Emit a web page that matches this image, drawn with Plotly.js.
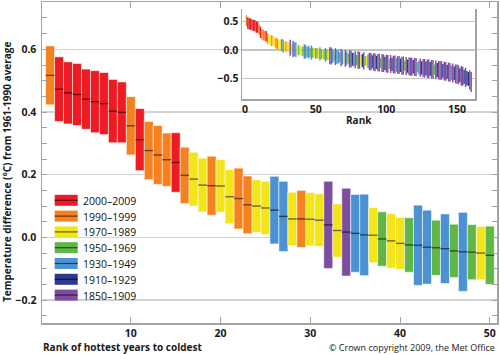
<!DOCTYPE html>
<html>
<head>
<meta charset="utf-8">
<script src="https://cdn.plot.ly/plotly-3.0.1.min.js"></script>
<style>
html,body{margin:0;padding:0;background:#fff;}
#chart{width:500px;height:354px;}
</style>
</head>
<body>
<div id="chart"></div>
<script>
// Period labels (legend) and colours
const periodLabels = ["2000–2009","1990–1999","1970–1989","1950–1969","1930–1949","1910–1929","1850–1909"];
const periodColors = ["#ed1c24","#f58220","#f3e519","#62b547","#4a92d3","#2b3990","#7d4e9f"];

// Period index of each ranked year (rank 1 = hottest), 160 years
const rankPeriod = [
  1,0,0,0,0,0,0,0,0,1, 0,1,1,1,0,1,2,2,1,2,
  2,1,1,2,2,4,4,2,1,2, 2,6,2,6,4,4,2,3,2,2,
  3,4,4,3,4,3,4,3,2,3,
  3,2,4,3,2,3,4,3,2,6, 6,4,3,6,4,4,3,6,4,2,
  6,4,3,6,6,5,4,6,3,6, 6,2,5,6,3,2,4,6,6,5,
  6,6,5,6,6,3,6,6,5,6, 6,3,6,5,6,6,4,6,6,5,
  6,6,3,6,5,6,6,6,5,6, 6,3,4,6,5,6,6,5,6,6,
  5,6,6,3,6,5,6,6,6,5, 6,6,5,6,6,4,6,5,6,6,
  6,5,6,6,5,6,5,5,6,6
];

// Best-estimate temperature anomaly (°C, vs 1961-1990) for each rank
const central = [
  0.517,0.473,0.461,0.456,0.441,0.433,0.427,0.403,0.399,0.356,
  0.312,0.277,0.263,0.248,0.239,0.198,0.186,0.167,0.165,0.164,
  0.130,0.124,0.104,0.100,0.094,0.087,0.067,0.059,0.059,0.058,
  0.055,0.040,0.022,0.017,0.013,0.008,0.007,-0.005,-0.011,-0.019,
  -0.024,-0.025,-0.031,-0.033,-0.036,-0.043,-0.046,-0.047,-0.050,-0.057,
  -0.059,-0.062,-0.068,-0.071,-0.073,-0.079,-0.084,-0.086,-0.092,-0.101,
  -0.104,-0.107,-0.109,-0.116,-0.119,-0.121,-0.127,-0.133,-0.135,-0.138,
  -0.146,-0.148,-0.150,-0.156,-0.160,-0.163,-0.165,-0.171,-0.174,-0.176,
  -0.180,-0.182,-0.186,-0.189,-0.191,-0.195,-0.197,-0.201,-0.206,-0.208,
  -0.210,-0.215,-0.217,-0.219,-0.224,-0.226,-0.229,-0.233,-0.235,-0.238,
  -0.242,-0.244,-0.246,-0.251,-0.254,-0.255,-0.259,-0.263,-0.265,-0.268,
  -0.272,-0.274,-0.276,-0.281,-0.283,-0.285,-0.290,-0.292,-0.294,-0.299,
  -0.301,-0.303,-0.307,-0.311,-0.313,-0.316,-0.320,-0.322,-0.326,-0.329,
  -0.332,-0.336,-0.339,-0.342,-0.347,-0.350,-0.354,-0.358,-0.361,-0.366,
  -0.371,-0.375,-0.380,-0.386,-0.391,-0.397,-0.404,-0.410,-0.418,-0.425,
  -0.433,-0.442,-0.451,-0.460,-0.471,-0.482,-0.494,-0.508,-0.525,-0.560
];

// Half-width of the uncertainty range for each rank (°C)
const halfRange = [
  0.094,0.103,0.099,0.099,0.096,0.099,0.099,0.101,0.097,0.093,
  0.099,0.093,0.094,0.085,0.095,0.090,0.086,0.086,0.094,0.084,
  0.086,0.097,0.092,0.084,0.085,0.108,0.112,0.085,0.091,0.085,
  0.084,0.139,0.085,0.140,0.124,0.130,0.088,0.087,0.087,0.083,
  0.087,0.128,0.118,0.088,0.111,0.085,0.126,0.088,0.085,0.093,
  0.088,0.084,0.118,0.086,0.083,0.089,0.121,0.087,0.085,0.148,
  0.150,0.119,0.088,0.147,0.122,0.117,0.086,0.152,0.120,0.084,
  0.149,0.121,0.087,0.151,0.148,0.113,0.118,0.150,0.088,0.153,
  0.149,0.086,0.116,0.152,0.087,0.085,0.120,0.151,0.154,0.114,
  0.153,0.156,0.115,0.152,0.155,0.088,0.157,0.154,0.117,0.156,
  0.155,0.089,0.158,0.116,0.154,0.157,0.121,0.155,0.158,0.118,
  0.156,0.159,0.088,0.157,0.117,0.155,0.160,0.158,0.119,0.157,
  0.159,0.089,0.122,0.160,0.118,0.158,0.161,0.120,0.159,0.162,
  0.121,0.163,0.160,0.090,0.164,0.122,0.162,0.165,0.163,0.121,
  0.166,0.164,0.123,0.167,0.165,0.124,0.168,0.122,0.166,0.169,
  0.167,0.124,0.170,0.168,0.125,0.171,0.126,0.123,0.172,0.175
];

const mainCount = 50;
const xTicksMain = [10,20,30,40,50];
const yTicksInset = [-0.5,0.0,0.5];
const xTicksInset = [0,50,100,150];

// ---- derived ----
const ranks = central.map((_, i) => i + 1);
const base = central.map((c, i) => c - halfRange[i]);
const span = halfRange.map(h => 2 * h);
const colors = rankPeriod.map(p => periodColors[p]);

const mRanks = ranks.slice(0, mainCount);

// central-value line segments for main chart
const segX = [], segY = [];
mRanks.forEach((r, i) => { segX.push(r - 0.49, r + 0.49, null); segY.push(central[i], central[i], null); });

const FONT = "'Open Sans', 'Noto Sans', sans-serif";
const GRID = "#d2d2d2";
const AX = "#a3a3a3";

const traces = [
  {
    type: "bar", x: mRanks, y: span.slice(0, mainCount), base: base.slice(0, mainCount),
    width: 1, marker: { color: colors.slice(0, mainCount), line: { color: "rgba(255,255,255,0.55)", width: 1 } },
    xaxis: "x", yaxis: "y", showlegend: false, hoverinfo: "skip"
  },
  {
    type: "scatter", mode: "lines", x: segX, y: segY,
    line: { color: "rgba(0,0,0,0.55)", width: 1.4 }, xaxis: "x", yaxis: "y",
    showlegend: false, hoverinfo: "skip", connectgaps: false
  },
  {
    type: "bar", x: ranks, y: span, base: base,
    width: 1, marker: { color: colors, line: { width: 0 } },
    xaxis: "x2", yaxis: "y2", showlegend: false, hoverinfo: "skip"
  }
];

// pixel helpers for paper coords (plot area: x 42..497, y 2..323)
const L = 42, R = 497, T = 2, B = 323;
const px = x => (x - L) / (R - L);
const py = y => (B - y) / (B - T);

const shapes = [];
const annotations = [];
periodLabels.forEach((lab, i) => {
  const cy = 200.3 + 15.8 * i;
  shapes.push({ type: "rect", xref: "paper", yref: "paper", x0: px(54.7), x1: px(77.7), y0: py(cy + 5.5), y1: py(cy - 5.5),
    fillcolor: periodColors[i], line: { width: 0 }, layer: "above" });
  shapes.push({ type: "line", xref: "paper", yref: "paper", x0: px(54.7), x1: px(77.7), y0: py(cy), y1: py(cy),
    line: { color: "rgba(0,0,0,0.6)", width: 1.2 }, layer: "above" });
  annotations.push({ xref: "paper", yref: "paper", x: px(81), y: py(cy + 0.5), xanchor: "left", yanchor: "middle",
    text: lab, showarrow: false, font: { family: FONT, size: 10.5, color: "#111" } });
});

annotations.push(
  { xref: "paper", yref: "paper", x: px(7), y: py(172), textangle: -90, xanchor: "center", yanchor: "middle",
    text: "<b>Temperature difference (°C) from 1961-1990 average</b>", showarrow: false,
    font: { family: FONT, size: 10, color: "#1a1a1a" } },
  { xref: "paper", yref: "paper", x: px(41), y: py(347), xanchor: "left", yanchor: "middle",
    text: "<b>Rank of hottest years to coldest</b>", showarrow: false,
    font: { family: FONT, size: 10, color: "#1a1a1a" } },
  { xref: "paper", yref: "paper", x: px(497), y: py(347), xanchor: "right", yanchor: "middle",
    text: "© Crown copyright 2009, the Met Office", showarrow: false,
    font: { family: FONT, size: 9, color: "#1a1a1a" } },
  { xref: "paper", yref: "paper", x: px(358.5), y: py(120), xanchor: "center", yanchor: "middle",
    text: "<b>Rank</b>", showarrow: false,
    font: { family: FONT, size: 10, color: "#1a1a1a" } }
);

const layout = {
  width: 500, height: 354,
  margin: { l: L, r: 500 - R, t: T, b: 354 - B, pad: 0 },
  paper_bgcolor: "#fff", plot_bgcolor: "#fff",
  font: { family: FONT, size: 10, color: "#1a1a1a" },
  showlegend: false,
  barmode: "overlay",
  xaxis: {
    domain: [0, 1], range: [0.1, 50.8], tickvals: xTicksMain, ticks: "inside", ticklen: 6, tickwidth: 1,
    tickcolor: AX, showline: true, linecolor: AX, linewidth: 1.5, mirror: "ticks", showgrid: false, zeroline: false,
    tickfont: { family: FONT, size: 10.5, color: "#1a1a1a", weight: "bold" }, anchor: "y"
  },
  yaxis: {
    domain: [0, 1], range: [-0.273, 0.751], tick0: 0, dtick: 0.2, tickformat: ".1f", ticks: "inside", ticklen: 5,
    tickwidth: 1, tickcolor: AX, showline: true, linecolor: AX, linewidth: 1.5, mirror: "ticks",
    showgrid: true, gridcolor: GRID, gridwidth: 1.5, zeroline: false, ticklabelstandoff: 2,
    minor: { dtick: 0.05, tick0: 0, ticks: "inside", ticklen: 5, tickcolor: AX, showgrid: false },
    tickfont: { family: FONT, size: 10.5, color: "#1a1a1a", weight: "bold" }, anchor: "x"
  },
  xaxis2: {
    domain: [px(242), px(475)], range: [-2.1, 162.7], anchor: "y2", tickvals: xTicksInset, ticks: "",
    showline: true, linecolor: AX, linewidth: 1.5, showgrid: false, zeroline: false,
    tickfont: { family: FONT, size: 10.5, color: "#1a1a1a", weight: "bold" }
  },
  yaxis2: {
    domain: [py(99.3), py(9)], range: [-0.865, 0.72], anchor: "x2", tickvals: yTicksInset, tickformat: ".1f",
    ticks: "", showline: true, linecolor: AX, linewidth: 1.5, mirror: true, showgrid: true, gridcolor: "#c4c4c4",
    gridwidth: 1.2, zeroline: false,
    tickfont: { family: FONT, size: 10.5, color: "#1a1a1a", weight: "bold" }
  },
  shapes: shapes,
  annotations: annotations
};

Plotly.newPlot("chart", traces, layout, { displayModeBar: false, staticPlot: true });
</script>
</body>
</html>
